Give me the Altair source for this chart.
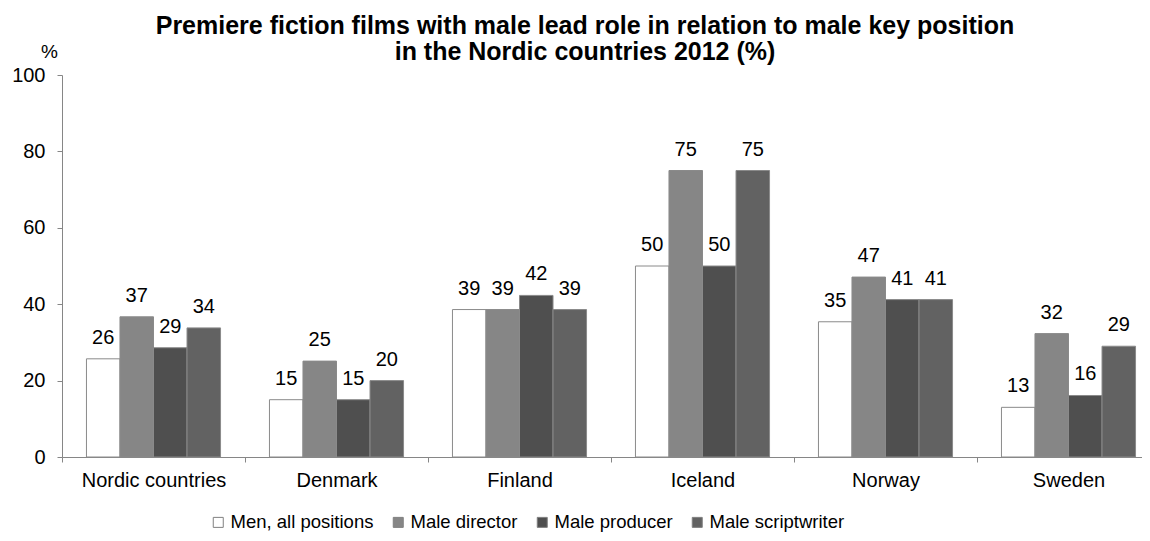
import altair as alt
import pandas as pd

countries = ["Nordic countries", "Denmark", "Finland", "Iceland", "Norway", "Sweden"]
series = ["Men, all positions", "Male director", "Male producer", "Male scriptwriter"]
men_all = [25.7, 15.0, 38.6, 50.0, 35.4, 13.0]
male_director = [36.7, 25.1, 38.6, 75.0, 47.1, 32.3]
male_producer = [28.6, 15.0, 42.3, 50.0, 41.2, 16.1]
male_scriptwriter = [33.8, 20.0, 38.6, 75.0, 41.2, 29.0]
colors = ["#ffffff", "#868686", "#4f4f4f", "#626262"]
y_ticks = [0, 20, 40, 60, 80, 100]

rows = []
for s, vals in zip(series, [men_all, male_director, male_producer, male_scriptwriter]):
    for c, v in zip(countries, vals):
        rows.append({"country": c, "series": s, "value": v})
df = pd.DataFrame(rows)

FONT = "Liberation Sans"
AXC = "#868686"

x = alt.X(
    "country:N", sort=countries,
    scale=alt.Scale(range=[0, 1098], paddingInner=0, paddingOuter=0),
    axis=alt.Axis(title=None, tickBand="extent", labelFontSize=20, labelFont=FONT,
                  labelColor="black", domainColor=AXC, tickColor=AXC, tickSize=5,
                  labelPadding=8, labelAngle=0, grid=False),
)
xo = alt.XOffset("series:N", sort=series,
                 scale=alt.Scale(paddingInner=0, paddingOuter=0.73))
y = alt.Y(
    "value:Q", scale=alt.Scale(domain=[0, 100]),
    axis=alt.Axis(values=y_ticks, grid=False, title="%", titleAngle=0, titleX=-13,
                  titleY=-24, titleAlign="center", titleBaseline="middle",
                  titleFontSize=19, titleFontWeight="normal", titleFont=FONT,
                  labelFontSize=20, labelFont=FONT, labelColor="black",
                  domainColor=AXC, tickColor=AXC, tickSize=5, labelPadding=12),
)

base = alt.Chart(df)
bars = base.mark_bar(stroke="#8a8a8a", strokeWidth=1).encode(
    x=x, xOffset=xo, y=y,
    color=alt.Color("series:N", sort=series,
                    scale=alt.Scale(domain=series, range=colors),
                    legend=alt.Legend(title=None, orient="none", direction="horizontal",
                                      legendX=147, legendY=438, symbolType="square",
                                      symbolSize=100, symbolStrokeColor="#808080",
                                      symbolStrokeWidth=1, labelFontSize=18.5,
                                      labelFont=FONT, labelColor="black",
                                      labelOffset=3, columnPadding=15, columns=4)),
)
labels = base.mark_text(dy=-15, baseline="alphabetic", fontSize=20, font=FONT,
                        color="black").encode(
    x=x, xOffset=xo, y=y,
    text=alt.Text("value:Q", format=".0f"),
)

chart = alt.layer(bars, labels).properties(
    width=1080, height=382,
    autosize=alt.AutoSizeParams(type="none"),
    padding={"left": 54, "top": 67, "right": 0, "bottom": 76},
    title=alt.TitleParams(
        ["Premiere fiction films with male lead role in relation to male key position",
         "in the Nordic countries 2012 (%)"],
        anchor="middle", dx=-17, dy=31, fontSize=25, font=FONT, fontWeight="bold",
        color="black", lineHeight=26, offset=8),
).configure_view(stroke=None)

chart.save("out.html", embed_options={"renderer": "svg", "actions": False})
